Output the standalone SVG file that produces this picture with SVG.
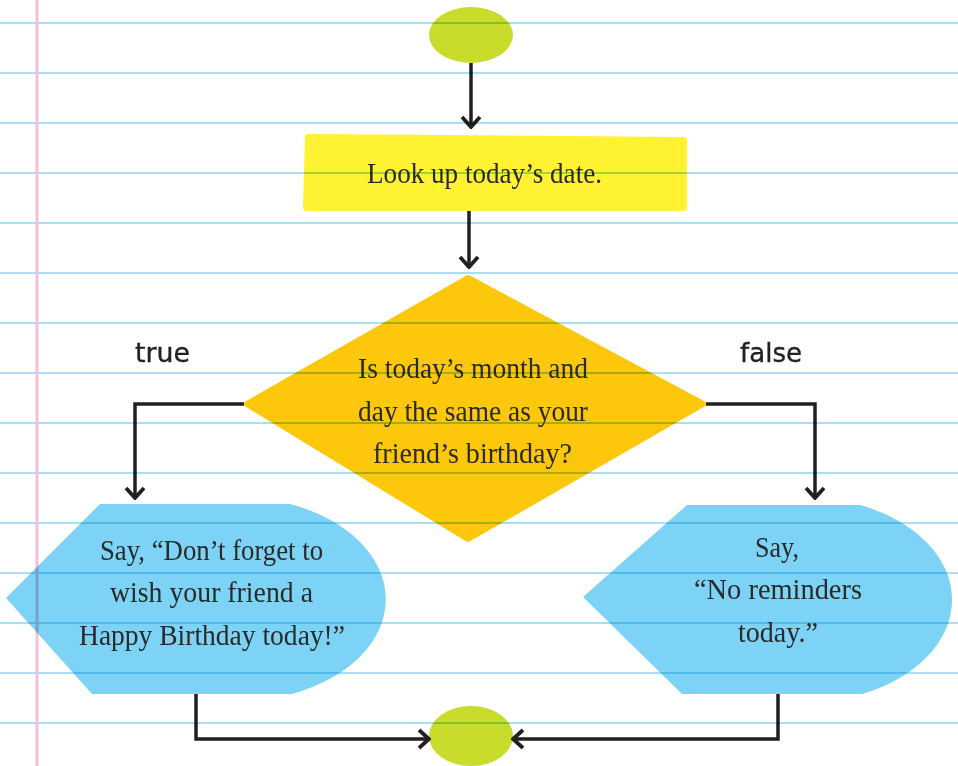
<svg xmlns="http://www.w3.org/2000/svg" width="958" height="766" viewBox="0 0 958 766">
  <style>
    .t { font-family: "Liberation Serif", "Times New Roman", serif; font-size: 29px; fill: #2a2a2a; text-anchor: middle; }
    .lbl { font-family: "DejaVu Sans", "Open Sans", sans-serif; font-size: 26px; fill: #222; stroke: #222; stroke-width: 0.35; text-anchor: middle; }
    .conn { fill: none; stroke: #231f20; stroke-width: 3.5; stroke-linejoin: miter; }
    .term { fill: #c9db2b; }
    .disp { fill: #7dd3f5; }
    .rule { stroke: #a8dff4; stroke-width: 2; }
  </style>
  <defs>
    <marker id="arr" viewBox="-14 -12 16 24" refX="0" refY="0" markerWidth="16" markerHeight="24" markerUnits="userSpaceOnUse" orient="auto">
      <path d="M-10,-9 L0,0 L-10,9" fill="none" stroke="#231f20" stroke-width="3.8" stroke-linejoin="miter"/>
    </marker>
  </defs>
  <rect x="0" y="0" width="958" height="766" fill="#ffffff"/>

  <g id="start">
    <ellipse class="term" cx="471" cy="35" rx="42" ry="28"/>
  </g>

  <g id="lookup">
    <path d="M309,134 L683,137 Q687,137 687,141 L687,207 Q687,211 683,211 L307,211 Q303,211 303,207 L305,138 Q305,134 309,134 Z" fill="#fef233"/>
    <text class="t" x="484.5" y="183" textLength="235" lengthAdjust="spacingAndGlyphs">Look up today’s date.</text>
  </g>

  <g id="decision">
    <polygon points="468,278 703,404 468,539 247,404" fill="#fdc70c" stroke="#fdc70c" stroke-width="6" stroke-linejoin="round"/>
    <text class="t" x="473" y="378" textLength="230" lengthAdjust="spacingAndGlyphs">Is today’s month and</text>
    <text class="t" x="473" y="421" textLength="230" lengthAdjust="spacingAndGlyphs">day the same as your</text>
    <text class="t" x="472.5" y="463" textLength="199" lengthAdjust="spacingAndGlyphs">friend’s birthday?</text>
  </g>

  <g id="say-birthday">
    <path class="disp" d="M100,504 L290,504 A149,102 0 0 1 292,694 L92,694 L6,598 Z"/>
    <text class="t" x="211.5" y="560" textLength="223" lengthAdjust="spacingAndGlyphs">Say, “Don’t forget to</text>
    <text class="t" x="211.5" y="602" textLength="203" lengthAdjust="spacingAndGlyphs">wish your friend a</text>
    <text class="t" x="212" y="645" textLength="266" lengthAdjust="spacingAndGlyphs">Happy Birthday today!”</text>
  </g>

  <g id="say-none">
    <path class="disp" d="M687,505 L860,505 A146,102 0 0 1 862,694 L682,694 L583,597 Z"/>
    <text class="t" x="777" y="557" textLength="44" lengthAdjust="spacingAndGlyphs">Say,</text>
    <text class="t" x="778" y="599" textLength="168" lengthAdjust="spacingAndGlyphs">“No reminders</text>
    <text class="t" x="778" y="642" textLength="80" lengthAdjust="spacingAndGlyphs">today.”</text>
  </g>

  <g id="end">
    <ellipse class="term" cx="471" cy="736" rx="42" ry="30"/>
  </g>

  <g id="connectors">
    <path class="conn" d="M471,63 L471,127" marker-end="url(#arr)"/>
    <path class="conn" d="M469,211 L469,267" marker-end="url(#arr)"/>
    <path class="conn" d="M244,404 L135,404 L135,498" marker-end="url(#arr)"/>
    <path class="conn" d="M706,404 L815,404 L815,498" marker-end="url(#arr)"/>
    <path class="conn" d="M196,694 L196,739 L429,739" marker-end="url(#arr)"/>
    <path class="conn" d="M778,694 L778,739 L513,739" marker-end="url(#arr)"/>
    <text class="lbl" x="162.5" y="362" textLength="55" lengthAdjust="spacingAndGlyphs">true</text>
    <text class="lbl" x="771" y="362" textLength="62" lengthAdjust="spacingAndGlyphs">false</text>
  </g>

  <g id="paper" style="mix-blend-mode:multiply">
    <line class="rule" x1="0" y1="23" x2="958" y2="23"/>
    <line class="rule" x1="0" y1="73" x2="958" y2="73"/>
    <line class="rule" x1="0" y1="123" x2="958" y2="123"/>
    <line class="rule" x1="0" y1="173" x2="958" y2="173"/>
    <line class="rule" x1="0" y1="223" x2="958" y2="223"/>
    <line class="rule" x1="0" y1="273" x2="958" y2="273"/>
    <line class="rule" x1="0" y1="323" x2="958" y2="323"/>
    <line class="rule" x1="0" y1="373" x2="958" y2="373"/>
    <line class="rule" x1="0" y1="423" x2="958" y2="423"/>
    <line class="rule" x1="0" y1="473" x2="958" y2="473"/>
    <line class="rule" x1="0" y1="523" x2="958" y2="523"/>
    <line class="rule" x1="0" y1="573" x2="958" y2="573"/>
    <line class="rule" x1="0" y1="623" x2="958" y2="623"/>
    <line class="rule" x1="0" y1="673" x2="958" y2="673"/>
    <line class="rule" x1="0" y1="723" x2="958" y2="723"/>
    <line x1="37" y1="0" x2="37" y2="766" stroke="#f6bfd9" stroke-width="3"/>
  </g>
</svg>
